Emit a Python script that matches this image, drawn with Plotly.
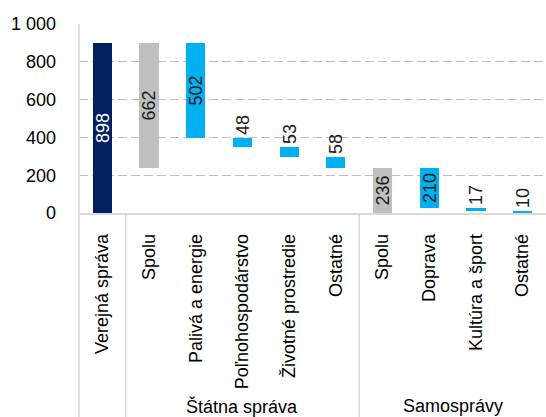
import plotly.graph_objects as go

# ---- data ----
categories = ["Verejná správa", "Spolu", "Palivá a energie", "Poľnohospodárstvo",
              "Životné prostredie", "Ostatné", "Spolu", "Doprava",
              "Kultúra a šport", "Ostatné"]
values = [898, 662, 502, 48, 53, 58, 236, 210, 17, 10]
bases = [0, 236, 396, 348, 295, 237, 0, 26, 9, 0]
groups = ["Štátna správa", "Samosprávy"]
group_members = [[1, 2, 3, 4, 5], [6, 7, 8, 9]]
y_ticks = [0, 200, 400, 600, 800, 1000]
y_tick_labels = ["0", "200", "400", "600", "800", "1 000"]

# ---- styling ----
NAVY = "#002060"
GRAY = "#BFBFBF"
CYAN = "#00B0F0"
bar_colors = [NAVY, GRAY, CYAN, CYAN, CYAN, CYAN, GRAY, CYAN, CYAN, CYAN]
text_colors = ["#FFFFFF"] + ["#1A1A1A"] * 9
text_pos = ["inside", "inside", "inside", "outside", "outside", "outside",
            "inside", "inside", "outside", "outside"]
FONT = "Liberation Sans, Arial, sans-serif"
FS = 18
LINE = "#D9D9D9"

W, H = 546, 417
ML, MR, MT, MB = 79, 0, 24, 204
plot_h = H - MT - MB

x = list(range(len(categories)))

fig = go.Figure()
fig.add_trace(go.Bar(
    x=x, y=values, base=bases,
    marker=dict(color=bar_colors, line=dict(width=0)),
    width=0.41,
    text=[str(v) for v in values],
    textposition=text_pos,
    textangle=-90,
    insidetextanchor="middle",
    constraintext="none",
    textfont=dict(family=FONT, size=FS, color=text_colors),
    outsidetextfont=dict(family=FONT, size=FS, color="#1A1A1A"),
    cliponaxis=False,
    hoverinfo="skip",
))

n = len(categories)
xr = (-0.5, n - 0.5)
def xp(v):
    return (v - xr[0]) / (xr[1] - xr[0])

bottom = -MB / plot_h
shapes = []
# y axis line extended to bottom
shapes.append(dict(type="line", xref="paper", yref="paper", x0=0, x1=0,
                   y0=bottom, y1=1, line=dict(color=LINE, width=1.5)))
# group dividers
for g in group_members:
    xd = xp(g[0] - 0.5)
    shapes.append(dict(type="line", xref="paper", yref="paper", x0=xd, x1=xd,
                       y0=bottom, y1=0, line=dict(color=LINE, width=1.5)))

annotations = []
for name, members in zip(groups, group_members):
    cx = xp((members[0] + members[-1]) / 2)
    annotations.append(dict(text=name, xref="paper", yref="paper", x=cx,
                            y=(MT + plot_h - 406) / plot_h, xanchor="center",
                            yanchor="middle", showarrow=False,
                            font=dict(family=FONT, size=FS, color="#000000")))

fig.update_layout(
    width=W, height=H,
    margin=dict(l=ML, r=MR, t=MT, b=MB, pad=0),
    paper_bgcolor="white", plot_bgcolor="white",
    showlegend=False,
    font=dict(family=FONT, size=FS, color="#000000"),
    shapes=shapes,
    annotations=annotations,
    bargap=0,
)
fig.update_xaxes(
    range=list(xr), tickmode="array", tickvals=x, ticktext=categories,
    tickangle=-90, showgrid=False, zeroline=False,
    showline=True, linecolor=LINE, linewidth=1.5,
    ticks="", ticklabelstandoff=12,
    tickfont=dict(family=FONT, size=FS, color="#000000"),
    fixedrange=True,
)
fig.update_yaxes(
    range=[0, 1000], tickmode="array", tickvals=y_ticks, ticktext=y_tick_labels,
    showgrid=True, gridcolor=GRAY, griddash="9px,4px", gridwidth=1.2,
    zeroline=False, showline=False, ticks="", ticklabelstandoff=22,
    tickfont=dict(family=FONT, size=FS, color="#000000"),
    fixedrange=True,
)

fig.write_html("out.html", config={"displayModeBar": False},
               post_script="document.body.style.margin='0';document.body.style.overflow='hidden';")
